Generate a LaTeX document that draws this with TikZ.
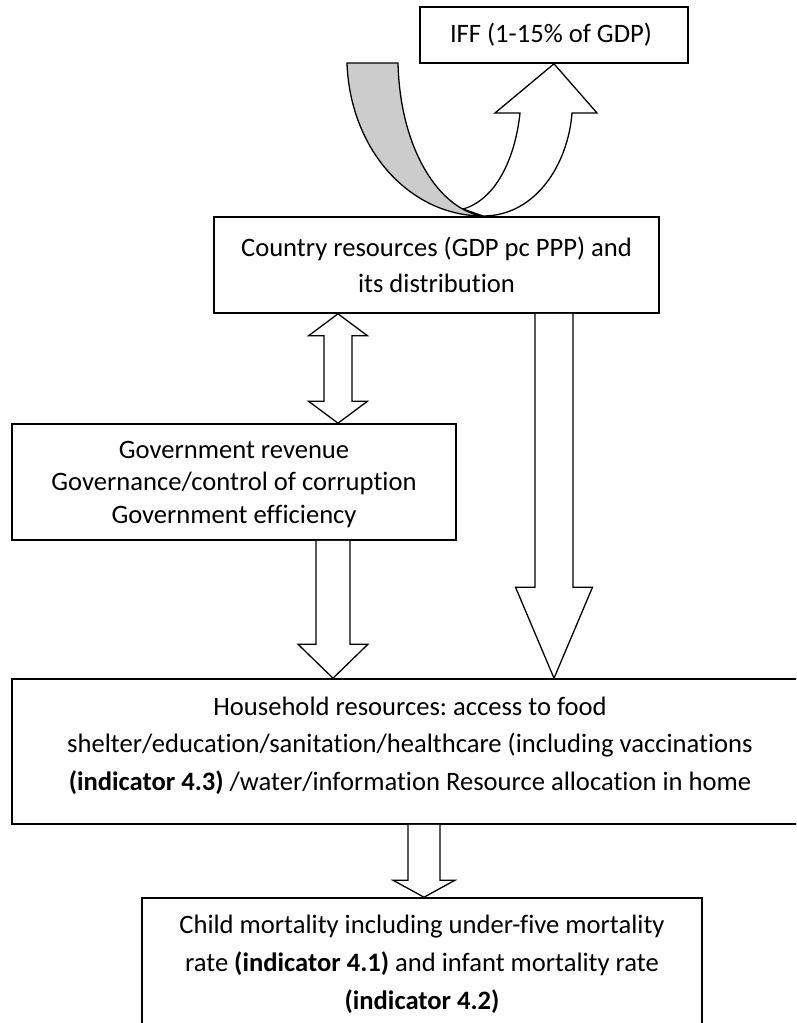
\documentclass[tikz,border=0pt]{standalone}
\usepackage{fontspec}
\setmainfont{Carlito}[RawFeature={-liga}]
\frenchspacing
\usetikzlibrary{calc}
\newcommand\dnarrow[5]{\draw[blk] let \p1=(#1), \p2=(#2) in (\x1-#3pt,\y1) -- (\x1-#3pt,\y2+#5pt) -- (\x1-#4pt,\y2+#5pt) -- (\x1,\y2) -- (\x1+#4pt,\y2+#5pt) -- (\x1+#3pt,\y2+#5pt) -- (\x1+#3pt,\y1);}
\begin{document}
\frenchspacing
\begin{tikzpicture}[x=1pt,y=-1pt,
  box/.style={draw,line width=1.6pt,inner sep=0pt,rectangle},
  txt/.style={align=center,inner sep=0pt},
  blk/.style={draw,line width=1.3pt,fill=white,line join=miter}]
\useasboundingbox (0,0) rectangle (796,1023);
\clip (0,0) rectangle (796,1023);
% boxes
\node[box,minimum width=268pt,minimum height=56pt] (iff) at (554,35) {};
\node[txt,font=\fontsize{26.6}{32}\selectfont] (ifftxt) at (551,35) {IFF (1-15\% of GDP)};
\node[box,minimum width=445pt,minimum height=96pt] (country) at (436.5,265) {};
\node[txt,font=\fontsize{26.6}{36}\selectfont] (countrytxt) at (436.5,265) {Country resources (GDP pc PPP) and\\its distribution};
\node[box,minimum width=444pt,minimum height=116pt] (gov) at (234,482) {};
\node[txt,font=\fontsize{26.6}{32.5}\selectfont] (govtxt) at (234,484.5) {Government revenue\\Governance/control of corruption\\Government efficiency};
\node[box,minimum width=796pt,minimum height=145pt] (hh) at (410,751.5) {};
\node[txt,font=\fontsize{26.6}{37.5}\selectfont] (hhtxt) at (410,745.5) {Household resources: access to food\\shelter/education/sanitation/healthcare (including vaccinations\\\textbf{(indicator 4.3)} /water/information Resource allocation in home};
\node[box,minimum width=560pt,minimum height=132pt] (child) at (422,964) {};
\node[txt,font=\fontsize{26.6}{38}\selectfont] (childtxt) at (422,964) {Child mortality including under-five mortality\\rate \textbf{(indicator 4.1)} and infant mortality rate\\\textbf{(indicator 4.2)}};
% curved arrow to IFF
\draw[blk] (483,216) .. controls (535,216) and (568,165) .. (572,113) -- (597,113) -- (iff.south) -- (495,113) -- (520,113) .. controls (515,160) and (495,200) .. (463,209) -- cycle;
\draw[blk,fill=gray!40] (347,63) .. controls (350,150) and (410,216) .. (483,216) .. controls (440,210) and (400,150) .. (398,63) -- cycle;
% double arrow country <-> gov
\coordinate (d1) at (338,0 |- country.south);
\coordinate (d2) at (338,0 |- gov.north);
\draw[blk] let \p1=(d1), \p2=(d2) in (\x1,\y1) -- (\x1+29.5pt,\y1-22pt) -- (\x1+14pt,\y1-22pt) -- (\x1+14pt,\y2+22pt) -- (\x1+29.5pt,\y2+22pt) -- (\x1,\y2) -- (\x1-29.5pt,\y2+22pt) -- (\x1-14pt,\y2+22pt) -- (\x1-14pt,\y1-22pt) -- (\x1-29.5pt,\y1-22pt) -- cycle;
% down arrows
\coordinate (l1) at (554,0 |- country.south);
\coordinate (l2) at (554,0 |- hh.north);
\dnarrow{l1}{l2}{19}{38.5}{91}
\coordinate (g1) at (333,0 |- gov.south);
\coordinate (g2) at (333,0 |- hh.north);
\dnarrow{g1}{g2}{17}{35}{34}
\coordinate (h1) at (424,0 |- hh.south);
\coordinate (h2) at (424,0 |- child.north);
\dnarrow{h1}{h2}{16}{31}{17}
\end{tikzpicture}
\end{document}
